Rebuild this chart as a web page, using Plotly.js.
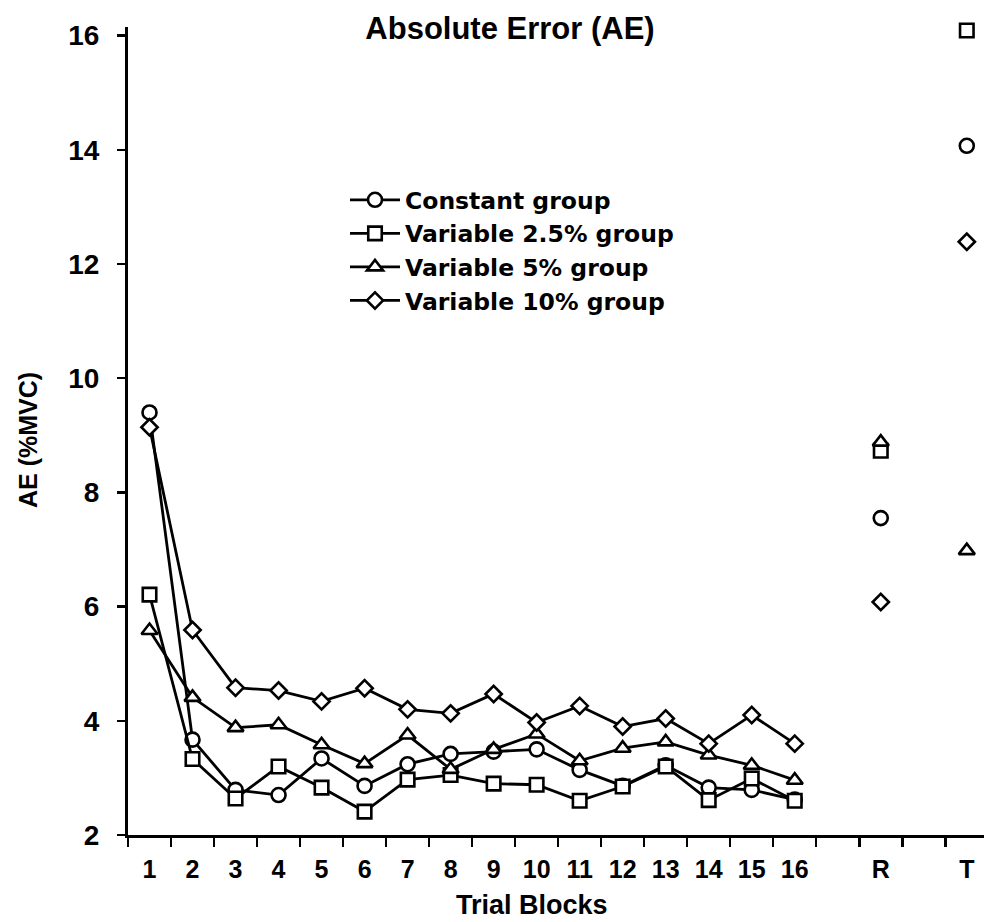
<!DOCTYPE html>
<html>
<head>
<meta charset="utf-8">
<script src="https://cdn.plot.ly/plotly-3.0.1.min.js"></script>
<style>html,body{margin:0;padding:0;background:#fff;}#chart{width:984px;height:922px;}</style>
</head>
<body>
<div id="chart"></div>
<script>
// Tick labels of the trial blocks (empty strings are spacer slots)
const blockLabels = ['1','2','3','4','5','6','7','8','9','10','11','12','13','14','15','16','','R','','T'];

// Series values (null = no value in that slot)
const constantGroup = [9.40, 3.67, 2.79, 2.70, 3.34, 2.86, 3.24, 3.42, 3.46, 3.50, 3.14, 2.86, 3.22, 2.83, 2.79, 2.62, null, 7.55, null, 14.07];
const variable25Group = [6.21, 3.33, 2.64, 3.20, 2.83, 2.41, 2.97, 3.05, 2.90, 2.88, 2.60, 2.85, 3.20, 2.61, 2.99, 2.60, null, 8.73, null, 16.09];
const variable5Group = [5.58, 4.41, 3.88, 3.93, 3.58, 3.25, 3.75, 3.15, 3.50, 3.77, 3.30, 3.52, 3.63, 3.40, 3.22, 2.96, null, 8.88, null, 6.98];
const variable10Group = [9.14, 5.59, 4.58, 4.53, 4.34, 4.57, 4.20, 4.13, 4.47, 3.97, 4.26, 3.90, 4.04, 3.60, 4.10, 3.60, null, 6.08, null, 12.39];

const seriesNames = ['Constant group', 'Variable 2.5% group', 'Variable 5% group', 'Variable 10% group'];
const yTickValues = [2, 4, 6, 8, 10, 12, 14, 16];

const xPos = blockLabels.map((_, i) => i + 1);
const labelPos = xPos.filter((_, i) => blockLabels[i] !== '');
const labelText = blockLabels.filter(l => l !== '');

const FONT = 'Liberation Sans, Arial, Helvetica, sans-serif';
const LEGEND_FONT = 'DejaVu Sans, Liberation Sans, Arial, sans-serif';

function makeTrace(name, values, symbol, size) {
  return {
    type: 'scatter',
    mode: 'lines+markers',
    name: name,
    x: xPos,
    y: values,
    connectgaps: false,
    cliponaxis: false,
    line: {color: 'black', width: 2.8},
    marker: {symbol: symbol, size: size, color: 'white', line: {color: 'black', width: 2.6}}
  };
}

const data = [
  makeTrace(seriesNames[0], constantGroup, 'circle', 14),
  makeTrace(seriesNames[1], variable25Group, 'square', 13.5),
  makeTrace(seriesNames[2], variable5Group, 'triangle-up', 14),
  makeTrace(seriesNames[3], variable10Group, 'diamond', 12.5)
];

const layout = {
  width: 984,
  height: 922,
  margin: {l: 128, r: 0, t: 27, b: 87, pad: 0},
  paper_bgcolor: 'white',
  plot_bgcolor: 'white',
  font: {family: FONT, color: 'black', weight: 'bold'},
  showlegend: true,
  title: {
    text: 'Absolute Error (AE)',
    font: {family: FONT, size: 31, color: 'black', weight: 'bold'},
    x: 510 / 984, xref: 'container', xanchor: 'center',
    y: 1 - 28 / 922, yref: 'container', yanchor: 'middle'
  },
  xaxis: {
    range: [0.5, 20.4],
    tickmode: 'array',
    tickvals: labelPos,
    ticktext: labelText,
    ticks: '',
    ticklabelstandoff: 10,
    tickfont: {family: FONT, size: 25, color: 'black', weight: 'bold'},
    minor: {tickmode: 'linear', tick0: 0.5, dtick: 1, ticks: 'outside', ticklen: 9, tickwidth: 2.5, tickcolor: 'black', showgrid: false},
    showline: true, linecolor: 'black', linewidth: 3,
    showgrid: false, zeroline: false, fixedrange: true
  },
  yaxis: {
    range: [2, 16.15],
    tickmode: 'array',
    tickvals: yTickValues,
    ticks: 'outside', ticklen: 8, tickwidth: 2.5, tickcolor: 'black',
    ticklabelstandoff: 12,
    tickfont: {family: FONT, size: 28, color: 'black', weight: 'bold'},
    showline: true, linecolor: 'black', linewidth: 3,
    showgrid: false, zeroline: false, fixedrange: true
  },
  legend: {
    x: (345 - 128) / 856, xref: 'paper', xanchor: 'left',
    y: (835 - 178) / 808, yref: 'paper', yanchor: 'top',
    bgcolor: 'rgba(0,0,0,0)',
    font: {family: LEGEND_FONT, size: 23.5, color: 'black', weight: 'bold'},
    itemwidth: 50,
    tracegroupgap: 0
  },
  annotations: [
    {
      text: 'Trial Blocks', showarrow: false,
      xref: 'paper', yref: 'paper',
      x: (532 - 128) / 856, y: (835 - 905) / 808,
      xanchor: 'center', yanchor: 'middle',
      font: {family: FONT, size: 27, color: 'black', weight: 'bold'}
    },
    {
      text: 'AE (%MVC)', showarrow: false, textangle: -90,
      xref: 'paper', yref: 'paper',
      x: (28 - 128) / 856, y: (835 - 440) / 808,
      xanchor: 'center', yanchor: 'middle',
      font: {family: FONT, size: 25, color: 'black', weight: 'bold'}
    }
  ]
};

Plotly.newPlot('chart', data, layout, {displayModeBar: false, staticPlot: true});
</script>
</body>
</html>
